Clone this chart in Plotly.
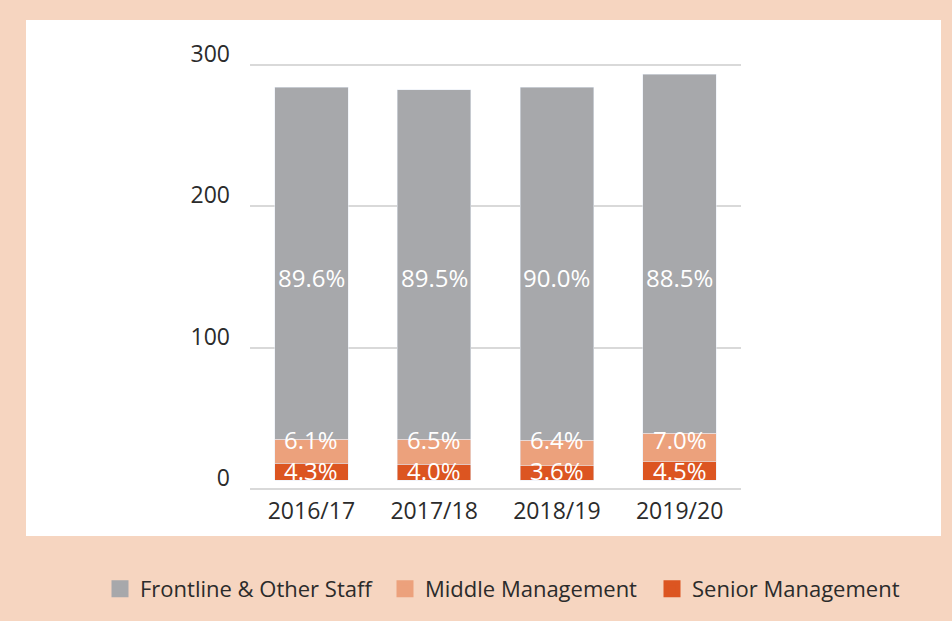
import plotly.graph_objects as go

# ---- data ----
years = ["2016/17", "2017/18", "2018/19", "2019/20"]
frontline = [249, 247, 250, 254]
middle = [17, 18, 18, 20]
senior = [12, 11, 10, 13]
frontline_pct = ["89.6%", "89.5%", "90.0%", "88.5%"]
middle_pct = ["6.1%", "6.5%", "6.4%", "7.0%"]
senior_pct = ["4.3%", "4.0%", "3.6%", "4.5%"]
series_names = ["Frontline & Other Staff", "Middle Management", "Senior Management"]
y_ticks = [0, 100, 200, 300]

# ---- style ----
C_FRONT = "#a7a8ab"
C_MID = "#eca17c"
C_SEN = "#dc5521"
PEACH = "#f6d5c0"
GRID = "#d9d9d9"
TXT = "#2b2b2b"
FONT = "Open Sans"
W, H = 952, 621

fig = go.Figure()
fig.add_trace(go.Bar(name=series_names[2], x=years, y=senior, marker_color=C_SEN,
                     yaxis="y2", showlegend=False))
fig.add_trace(go.Bar(name=series_names[1], x=years, y=middle, marker_color=C_MID,
                     yaxis="y2", showlegend=False))
fig.add_trace(go.Bar(name=series_names[0], x=years, y=frontline, marker_color=C_FRONT,
                     yaxis="y2", showlegend=False))

# legend entries: one legend per entry so each can be placed like the reference
legend_ids = ["legend", "legend2", "legend3"]
legend_x_px = [100, 385, 652]
for nm, col, lid in zip(series_names, [C_FRONT, C_MID, C_SEN], legend_ids):
    fig.add_trace(go.Bar(name=nm, x=[None], y=[None], yaxis="y", legend=lid,
                         marker=dict(color=col, line=dict(color=col, width=6))))

# percentage labels at fixed heights (bar axis units)
label_levels = [(frontline_pct, 143), (middle_pct, 28.5), (senior_pct, 6.5)]
for texts, lvl in label_levels:
    for yr, t in zip(years, texts):
        fig.add_annotation(x=yr, y=lvl, xref="x", yref="y2", text=t, showarrow=False,
                           font=dict(family=FONT, size=24, color="white"))

# white panel
fig.add_shape(type="rect", xref="paper", yref="paper",
              x0=26 / W, x1=941 / W,
              y0=(499 - 536) / 444, y1=(499 - 20) / 444,
              fillcolor="white", line_width=0, layer="below")

legend_common = dict(orientation="h", xanchor="left", y=(499 - 589) / 444, yanchor="middle",
                     bgcolor="rgba(0,0,0,0)", font=dict(size=22, color=TXT))

fig.update_layout(
    width=W, height=H,
    margin=dict(l=0, r=0, t=55, b=122, autoexpand=False),
    paper_bgcolor=PEACH, plot_bgcolor="rgba(0,0,0,0)",
    barmode="stack", bargap=0.4,
    font=dict(family=FONT, color=TXT),
    xaxis=dict(domain=[250 / W, 741 / W], showgrid=False, zeroline=False, showline=False,
               ticks="", tickfont=dict(size=23, color=TXT), ticklabelstandoff=-4),
    yaxis=dict(anchor="x", range=[-7.075, 307.075], tickvals=y_ticks, showgrid=True,
               gridcolor=GRID, gridwidth=2, zeroline=False, showline=False, ticks="",
               tickfont=dict(size=23, color=TXT), ticklabelshift=-11, ticklabelstandoff=19),
    yaxis2=dict(anchor="x", range=[-13.44, 300.71], overlaying="y", visible=False),
    legend=dict(x=legend_x_px[0] / W, **legend_common),
    legend2=dict(x=legend_x_px[1] / W, **legend_common),
    legend3=dict(x=legend_x_px[2] / W, **legend_common),
)

fig.write_html(
    "out.html",
    config={"displayModeBar": False},
    post_script="document.body.style.margin='0';document.body.style.overflow='hidden';",
)
